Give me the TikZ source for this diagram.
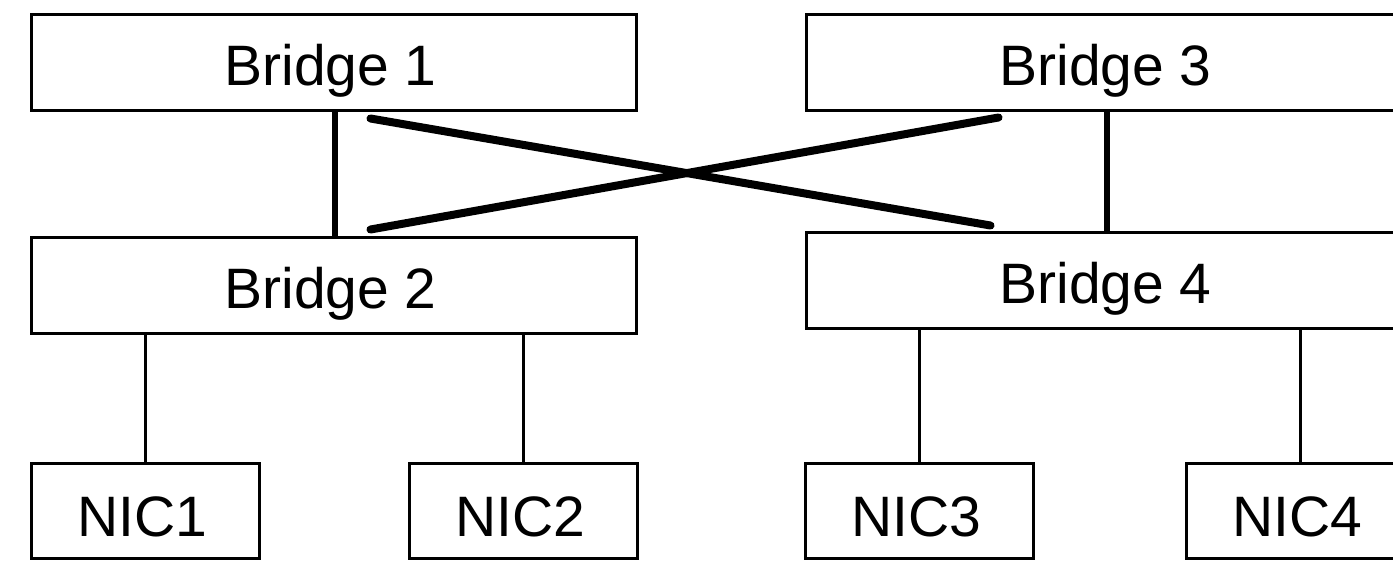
\documentclass[tikz,border=0pt]{standalone}
\usepackage{fontspec}
\setmainfont{Liberation Sans}
\usetikzlibrary{calc}
\begin{document}
\begin{tikzpicture}[x=1pt,y=-1pt,
  box/.style={draw=black, line width=3pt, inner sep=0pt, text depth=0pt,
    font=\fontsize{57}{60}\selectfont, execute at begin node={\hspace*{-6pt}}},
  bridge/.style={box, minimum width=605pt, minimum height=96pt, text height=47pt},
  nic/.style={box, minimum width=228pt, minimum height=95pt, text height=52pt},
  thinlink/.style={line width=3pt},
  medlink/.style={line width=6pt},
  thicklink/.style={line width=8pt, line cap=round}]
\useasboundingbox (0,0) rectangle (1393,563);
\clip (0,0) rectangle (1393,563);
\node[bridge] (b1) at (333.5,62) {Bridge 1};
\node[bridge] (b3) at (1108.5,62) {Bridge 3};
\node[bridge] (b2) at (333.5,285) {Bridge 2};
\node[bridge] (b4) at (1108.5,280) {Bridge 4};
\node[nic] (n1) at (145,510.5) {NIC1};
\node[nic] (n2) at (523.5,510.5) {NIC2};
\node[nic] (n3) at (919,510.5) {NIC3};
\node[nic] (n4) at (1300,510.5) {NIC4};
\draw[medlink] ([xshift=1.5pt]b1.south) -- ([xshift=1.5pt]b2.north);
\draw[medlink] ([xshift=-1.5pt]b3.south) -- ([xshift=-1.5pt]b4.north);
\draw[thicklink] ($(b1.south west)+(341,7)$) -- ($(b4.north west)+(186,-5)$);
\draw[thicklink] ($(b2.north west)+(341,-6)$) -- ($(b3.south west)+(194,6)$);
\draw[thinlink] (n1.north) -- (n1.north |- b2.south);
\draw[thinlink] (n2.north) -- (n2.north |- b2.south);
\draw[thinlink] (n3.north) -- (n3.north |- b4.south);
\draw[thinlink] (n4.north) -- (n4.north |- b4.south);
\end{tikzpicture}
\end{document}
